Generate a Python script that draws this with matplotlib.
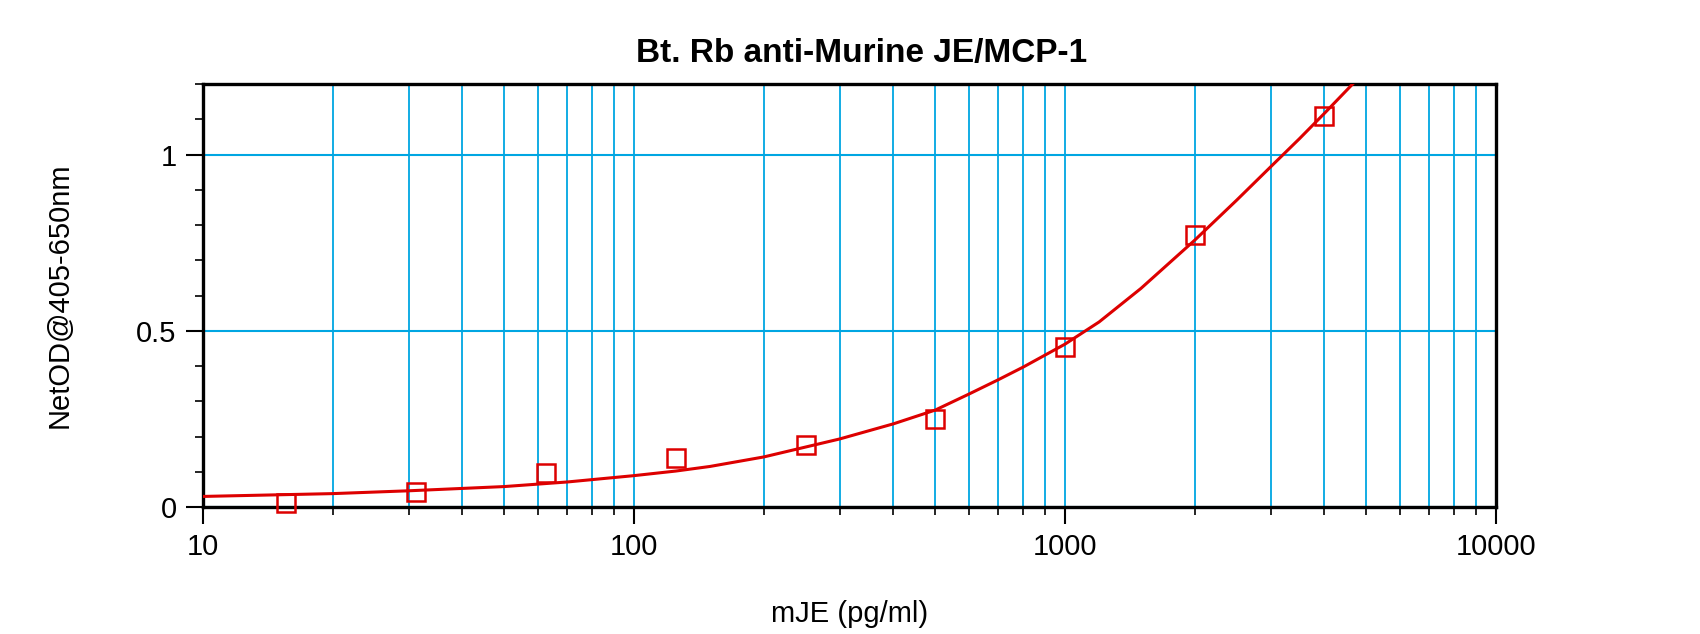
import matplotlib
matplotlib.use('Agg')
import matplotlib.pyplot as plt
from matplotlib.ticker import LogLocator, MultipleLocator, FixedLocator, NullFormatter

plt.rcParams['font.family'] = ['Liberation Sans', 'DejaVu Sans']

# standards (pg/ml) and net OD
conc = [15.6, 31.25, 62.5, 125, 250, 500, 1000, 2000, 4000]
od = [0.011, 0.043, 0.097, 0.138, 0.176, 0.249, 0.453, 0.773, 1.110]

# fitted curve, points
curve_x = [10, 20, 30, 50, 70, 100, 125, 150, 200, 300, 400, 500, 600, 700, 800,
           1000, 1200, 1500, 2000, 2500, 3000, 3500, 4000, 4650]
curve_y = [0.030, 0.038, 0.046, 0.058, 0.071, 0.089, 0.102, 0.115, 0.142, 0.193, 0.236, 0.275, 0.321, 0.361, 0.397,
           0.462, 0.525, 0.620, 0.757, 0.870, 0.965, 1.045, 1.117, 1.200]

grid_blue = '#00a6e2'
red = '#dd0000'

fig = plt.figure(figsize=(17, 6.34), dpi=100)
ax = fig.add_axes([0.1194, 0.2003, 0.7606, 0.6672])

ax.plot(curve_x, curve_y, color=red, linewidth=2.2, zorder=3)
ax.plot(conc, od, linestyle='none', marker='s', markersize=12.5, clip_on=False,
        markerfacecolor='none', markeredgecolor=red, markeredgewidth=1.8, zorder=4)

ax.set_xscale('log')
ax.set_xlim(10, 10000)
ax.set_ylim(0, 1.2)

ax.xaxis.set_major_locator(FixedLocator([10, 100, 1000, 10000]))
ax.xaxis.set_minor_locator(LogLocator(base=10, subs=range(2, 10)))
ax.xaxis.set_minor_formatter(NullFormatter())
ax.set_xticklabels(['10', '100', '1000', '10000'])
ax.yaxis.set_major_locator(FixedLocator([0, 0.5, 1]))
ax.set_yticklabels(['0', '0.5', '1'])
ax.yaxis.set_minor_locator(MultipleLocator(0.1))

ax.grid(which='both', axis='x', color=grid_blue, linewidth=1.3)
ax.grid(which='major', axis='y', color=grid_blue, linewidth=1.5)
ax.set_axisbelow(True)

for s in ax.spines.values():
    s.set_linewidth(2.4)
ax.tick_params(which='major', length=12, width=1.5, labelsize=21, pad=7)
ax.tick_params(which='minor', length=6, width=1.2)

ax.set_title('Bt. Rb anti-Murine JE/MCP-1', fontsize=24, fontweight='bold', pad=16, x=0.509)
ax.set_xlabel('mJE (pg/ml)', fontsize=21, labelpad=28)
ax.set_ylabel('NetOD@405-650nm', fontsize=21, labelpad=45)

fig.savefig('out.png', dpi=100)
